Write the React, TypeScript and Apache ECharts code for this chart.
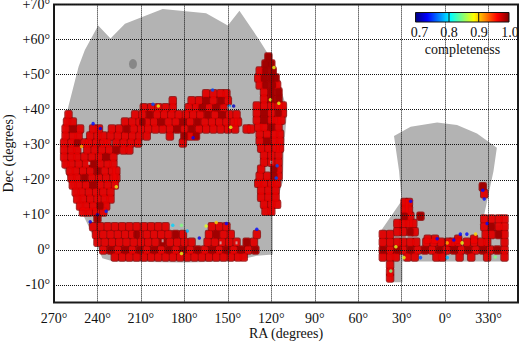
import React, { useEffect, useRef } from "react";
import * as echarts from "echarts";

const raTicks = [270, 240, 210, 180, 150, 120, 90, 60, 30, 0, -30];
const decTicks = [-10, 0, 10, 20, 30, 40, 50, 60, 70];
const barLabels = ["0.7", "0.8", "0.9", "1.0"];
const jet = ["#00007f", "#0000ff", "#0080ff", "#00ffff", "#7fff7f", "#ffff00", "#ff8000", "#ff0000", "#7f0000"];

const northFootprint: number[][] = [
  [261, 39.4], [260, 41], [253, 52.3], [248.7, 57], [239.5, 64], [231, 60.3], [221, 64.5], [195, 68.7], [165, 67.5],
  [150, 64], [142, 68.2], [128.5, 60], [121.8, 55.6], [112, 44], [109, 40], [111.4, 28.5], [112, 19.6], [119, 9.9],
  [119, -1.3], [130, -1.7], [147, -3.3], [181, -3.6], [229, -3.3], [236.6, -2.4], [245, 5.8], [250, 10], [263.6, 23.7], [263.6, 31],
];
const southFootprint: number[][] = [
  [35.3, 32.5], [23.8, 35.1], [5.5, 36.3], [-8.2, 35.6], [-22, 33.2], [-35.7, 29.1], [-33.4, 22.5], [-25.4, 7],
  [-43, 7], [-43, -3.3], [29.5, -3.3], [29.5, -9.2], [37.6, -9.2], [36, -3.3], [45, -3.3], [45, 5], [30, 14], [31.8, 22.5],
];

const spotTile: number[] = [215.5, 53];

const leftBlockRows: [number, number[]][] = [
  [38.5, [260]],
  [36.5, [261, 257]],
  [34.5, [262, 257, 252, 243, 239]],
  [32.5, [262, 257, 253, 245, 240, 236]],
  [30.5, [263, 258, 254, 249, 246, 241, 236, 233]],
  [28.5, [263, 258, 254, 247, 242, 237, 232]],
  [26.5, [263, 258, 254, 249, 244, 239, 234, 229]],
  [24.5, [262, 258, 253, 248, 243, 238, 233, 229]],
  [22.5, [259, 255, 250, 245, 240, 235, 230, 227]],
  [20.5, [258, 254, 249, 244, 239, 234, 229, 227]],
  [18.5, [257, 253, 248, 243, 238, 233, 228]],
  [16.5, [255, 251, 246, 241, 236, 231]],
  [14.5, [254, 250, 245, 240, 235, 231]],
  [12.5, [252, 248, 243, 238, 234]],
  [10.8, [250, 246, 241, 236]],
  [9, [240]],
];
const arcRows: [number, number[]][] = [
  [44.5, [165, 160, 155, 151]],
  [42.5, [188, 175, 170, 165, 160, 155, 150]],
  [40.5, [208, 203, 198, 193, 188, 177, 172, 168, 163, 158, 153]],
  [38.5, [214, 209, 204, 199, 194, 189, 184, 179, 174, 169, 164, 159, 154, 149, 144]],
  [36.5, [221, 216, 211, 206, 201, 196, 191, 186, 181, 176, 171, 166, 161, 156, 151, 146, 143]],
  [34.5, [230, 225, 220, 215, 210, 205, 200, 195, 190, 185, 180, 175, 170, 165, 160, 155, 150, 145, 137, 134]],
  [32.5, [231, 226, 221, 216, 211, 206, 190, 180, 176, 172]],
  [30.5, [227, 222, 217, 212, 181]],
  [28.5, [227, 222, 218]],
];
const columnRows: [number, number[]][] = [
  [55, [122]],
  [53, [124, 120]],
  [51, [128, 124, 119]],
  [49, [129, 125, 120, 117]],
  [47, [128, 124, 119, 116]],
  [45, [125, 120, 115]],
  [43, [125, 120, 115]],
  [41, [130, 125, 120, 115, 112]],
  [39, [130, 125, 120, 115, 112]],
  [37, [130, 125, 120, 116, 113]],
  [35, [129, 125, 120, 115]],
  [33, [128, 123, 118, 114]],
  [31, [128, 123, 118, 114]],
  [29, [127, 122, 117, 114]],
  [27, [125, 120, 115]],
  [25, [125, 120, 115]],
  [23, [127, 118, 115]],
  [21, [128, 123, 118, 115]],
  [19, [129, 125, 120, 116]],
  [17, [127, 122, 117]],
  [15, [127, 122, 117]],
  [13, [125, 120, 116]],
  [11, [124, 120]],
];
const northStripeRows: [number, number[]][] = [
  [6.6, [243, 238, 233, 228, 223, 218, 213, 208, 203, 198, 193, 161, 156, 151]],
  [4.4, [241, 236, 231, 226, 221, 216, 211, 206, 201, 196, 191, 186, 181, 163, 158, 153, 148, 130]],
  [2.2, [240, 235, 230, 225, 220, 215, 210, 205, 200, 195, 190, 185, 180, 175, 164, 159, 154, 149, 144, 137, 132]],
  [0, [236, 231, 226, 221, 216, 211, 206, 201, 196, 191, 186, 181, 176, 171, 166, 161, 156, 151, 146, 141, 136, 131]],
  [-2, [228, 223, 218, 213, 208, 203, 198, 193, 188, 183, 178, 173, 168, 163, 158, 153, 148, 143, 139]],
];
const southStripeRows: [number, number[]][] = [
  [13.5, [28, 25]],
  [11.5, [28, 25]],
  [9.6, [28, 24, 17]],
  [8.8, [-27, -32, -37, -41]],
  [7.5, [33, 29, 25, 22]],
  [6.6, [-27, -32, -37, -41]],
  [5.2, [33, 29, 24, 21]],
  [4.4, [43, 38, -28, -32, -37, -41]],
  [3, [12, 7, -9, -20]],
  [2.2, [43, 38, 33, 29, 24, 20, 13, 8, 3, -2, -5, -9, -15, -20, -25, -29, -41]],
  [0, [43, 38, 33, 29, 24, 19, 14, 9, 4, -1, -6, -11, -16, -21, -26, -31, -36, -41]],
  [-2, [43, 38, 34, 26, 21, 6, 2, -10, -18, -29, -41]],
  [-4.3, [38]],
  [-6.3, [38]],
  [-8, [38]],
  [16, [-27]],
  [18, [-26]],
];
const deepTiles: number[][] = [
  [122, 55], [124, 53], [120, 53], [124, 51], [119, 51], [125, 49], [120, 49], [117, 49], [124, 47], [119, 47], [120, 45], [115, 45],
  [120, 43], [115, 43], [125, 39], [115, 39], [125, 37], [120, 35], [123, 31], [118, 23], [118, 21],
  [165, 42.5], [155, 42.5], [168, 40.5], [158, 40.5], [164, 38.5], [154, 38.5], [171, 36.5], [181, 36.5], [185, 34.5], [180, 32.5], [172, 32.5], [175, 34.5],
  [204, 38.5], [209, 36.5], [220, 34.5], [196, 36.5], [227, 28.5], [234, 26.5], [243, 24.5], [240, 22.5], [249, 20.5], [243, 18.5], [238, 12.5], [240, 9], [254, 30.5], [257, 34.5],
  [231, 0], [221, 0], [211, 0], [201, 0], [191, 0], [181, 0], [171, 0], [161, 0], [151, 0], [141, 0], [131, 0],
  [43, 0], [33, 0], [24, 0], [14, 0], [4, 0], [-6, 0], [-16, 0], [-26, 0], [-36, 0],
  [213, 4.4], [195, 2.2], [186, 4.4], [158, 4.4], [137, 2.2], [24, 5.2], [28, 9.6], [-37, 4.4], [-32, 6.6],
  [17, 9.6], [-26, 18],
];
const edgeTiles: number[][] = [
  [243, 36, 0.74], [238, 34.6, 0.73], [201.7, 41.5, 0.76], [198, 41, 0.88], [160.5, 45.6, 0.76], [174, 32, 0.74], [149, 41, 0.78], [146, 41, 0.72],
  [148, 35, 0.88], [118.2, 52, 0.88], [120.6, 42.8, 0.88], [114.8, 41.8, 0.88], [116, 24, 0.76], [116.6, 20.5, 0.76], [245, 8, 0.73], [240, 10, 0.72], [234, 11, 0.75],
  [227, 18, 0.88], [251, 29.5, 0.91], [188, 7, 0.8], [182, 7, 0.85], [178, 5.4, 0.79], [169.7, 3.4, 0.73], [165, 6.8, 0.88], [158, 7.8, 0.9], [151, 7.5, 0.74],
  [182, -1, 0.88], [130, 5.9, 0.74], [23.8, 13.9, 0.74], [34, 0.9, 0.88], [-21, 4.5, 0.9], [-10.5, 4.5, 0.74], [-15, 4.5, 0.74], [-6, 2.8, 0.74], [5.5, 3.2, 0.74],
  [-1.4, 2, 0.91], [-11.7, 2, 0.88], [-26, 17, 0.74], [-27, 14.5, 0.74], [-29, 7.5, 0.74], [37.5, -6, 0.85], [28.4, -2.2, 0.88], [17, -2.2, 0.76], [-34.6, -2, 0.85], [-1.5, -2.2, 0.79],
];
const specks: number[][] = [[245.7, 24.7], [155, 2], [195, 2.6], [144, 2], [149, 40.5], [120, 25]];

const tileRows = [...leftBlockRows, ...arcRows, ...columnRows, ...northStripeRows, ...southStripeRows];
const tilePoints = tileRows.flatMap(([dec, ras]) => ras.map((ra) => [ra, dec]));

const serif = "Liberation Serif";
const ink = "#111";

const polygonSeries = (points: number[][], color: string, z: number) => ({
  type: "custom" as const,
  coordinateSystem: "cartesian2d",
  z,
  silent: true,
  data: [points[0]],
  renderItem: (_p: any, api: any) => ({
    type: "polygon",
    shape: { points: points.map((p) => api.coord(p)) },
    style: { fill: color },
  }),
});

export default function App() {
  const ref = useRef<HTMLDivElement>(null);
  useEffect(() => {
    document.body.style.margin = "0";
    const chart = echarts.init(ref.current!, undefined, { renderer: "svg" });
    const barX = 415.5;
    const barW = 93.5;
    chart.setOption({
      animation: false,
      grid: { left: 54, right: 2, top: 4.4, bottom: 39.5, outerBoundsMode: "none", show: true, borderColor: "#1a1a1a", borderWidth: 2, backgroundColor: "transparent" },
      xAxis: {
        type: "value",
        inverse: true,
        min: -50.3,
        max: 270,
        z: 3,
        name: "RA (degrees)",
        nameLocation: "middle",
        nameGap: 24,
        nameMoveOverlap: false,
        nameTextStyle: { fontFamily: serif, fontSize: 14, color: ink },
        axisLine: { show: false },
        axisTick: { show: true, inside: false, length: 6, customValues: raTicks, lineStyle: { color: "#222", type: [1, 1] } },
        axisLabel: {
          customValues: raTicks,
          margin: 9,
          fontFamily: serif,
          fontSize: 14,
          color: ink,
          formatter: (v: number) => `${v < 0 ? 360 + v : v}°`,
        },
        splitLine: { show: true, lineStyle: { color: "#111", width: 1, type: [1, 1] } },
      },
      yAxis: {
        type: "value",
        min: -15,
        max: 70,
        z: 3,
        name: "Dec (degrees)",
        nameLocation: "middle",
        nameGap: 39,
        nameMoveOverlap: false,
        nameTextStyle: { fontFamily: serif, fontSize: 14, color: ink },
        axisLine: { show: false },
        axisTick: { show: false, customValues: decTicks },
        axisLabel: {
          customValues: decTicks,
          margin: 4,
          fontFamily: serif,
          fontSize: 14,
          color: ink,
          formatter: (v: number) => (v > 0 ? `+${v}°` : `${v}°`),
        },
        splitLine: { show: true, lineStyle: { color: "#111", width: 1, type: [1, 1] } },
      },
      visualMap: { show: false, type: "continuous", min: 0.7, max: 1, dimension: 2, seriesIndex: [3, 4, 5, 6], inRange: { color: jet } },
      series: [
        polygonSeries(northFootprint, "#b3b3b3", 1),
        polygonSeries(southFootprint, "#b3b3b3", 1),
        {
          type: "scatter",
          z: 1,
          silent: true,
          symbol: "circle",
          symbolSize: [8, 10],
          itemStyle: { color: "#7c7c7c" },
          data: [spotTile],
        },
        {
          type: "scatter",
          z: 2,
          silent: true,
          symbol: "roundRect",
          symbolSize: [8.5, 9.5],
          data: tilePoints.map(([ra, dec]) => [ra, dec, 0.995]),
        },
        {
          type: "scatter",
          z: 2,
          silent: true,
          symbol: "roundRect",
          symbolSize: [6.5, 7.5],
          data: tilePoints.map(([ra, dec]) => [ra, dec, 0.967]),
        },
        {
          type: "scatter",
          z: 2,
          silent: true,
          symbol: "roundRect",
          symbolSize: [6.5, 7.5],
          data: deepTiles.map(([ra, dec]) => [ra, dec, 0.995]),
        },
        {
          type: "scatter",
          z: 2,
          silent: true,
          symbol: "circle",
          symbolSize: 3.5,
          data: edgeTiles,
        },
        {
          type: "scatter",
          z: 2,
          silent: true,
          symbol: "rect",
          symbolSize: [2, 3],
          itemStyle: { color: "#c9b8b8" },
          data: specks,
        },
      ],
      graphic: [
        {
          type: "rect",
          z: 10,
          shape: { x: barX, y: 12.5, width: barW, height: 9.5 },
          style: {
            fill: new echarts.graphic.LinearGradient(0, 0, 1, 0, jet.map((color, i) => ({ offset: i / (jet.length - 1), color }))),
            stroke: "#111",
            lineWidth: 1,
          },
        },
        { type: "line", z: 10, shape: { x1: 449, y1: 12.5, x2: 449, y2: 22 }, style: { stroke: "#111", lineWidth: 1 } },
        { type: "line", z: 10, shape: { x1: 478.7, y1: 12.5, x2: 478.7, y2: 22 }, style: { stroke: "#111", lineWidth: 1 } },
        ...barLabels.map((text, i) => ({
          type: "text",
          z: 10,
          x: [419.5, 449, 479, 510][i],
          y: 32,
          style: { text, fontFamily: serif, fontSize: 14, fill: ink, align: "center", verticalAlign: "middle" },
        })),
        {
          type: "text",
          z: 10,
          x: 462.5,
          y: 49,
          style: { text: "completeness", fontFamily: serif, fontSize: 14, fill: ink, align: "center", verticalAlign: "middle" },
        },
      ],
    });
    return () => chart.dispose();
  }, []);
  return <div ref={ref} style={{ width: 520, height: 342 }} />;
}
